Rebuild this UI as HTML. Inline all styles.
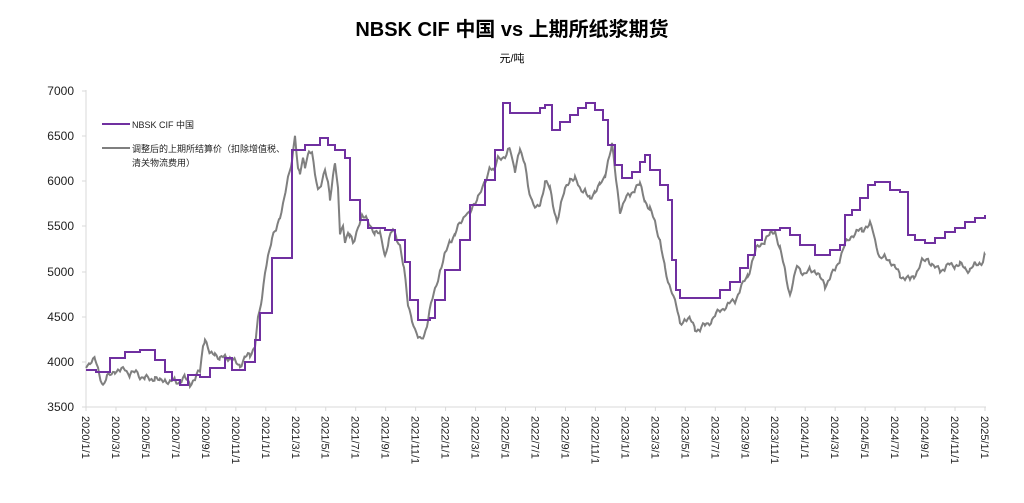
<!DOCTYPE html>
<html><head><meta charset="utf-8"><style>
body{margin:0;background:#fff;width:1024px;height:503px;overflow:hidden}
svg{display:block;font-family:"Liberation Sans","Noto Sans CJK SC",sans-serif}
</style></head><body>
<svg width="1024" height="503" viewBox="0 0 1024 503">
<text x="512" y="36" text-anchor="middle" font-size="20" font-weight="bold" fill="#000">NBSK CIF 中国 vs 上期所纸浆期货</text>
<text x="512" y="62" text-anchor="middle" font-size="11" fill="#000">元/吨</text>
<g font-size="12" fill="#222" text-anchor="end">
<text x="74" y="95">7000</text><text x="74" y="140">6500</text><text x="74" y="185">6000</text><text x="74" y="230">5500</text><text x="74" y="276">5000</text><text x="74" y="321">4500</text><text x="74" y="366">4000</text><text x="74" y="411">3500</text>
</g>
<g stroke="#d9d9d9" stroke-width="1" fill="none">
<line x1="86" y1="90" x2="86" y2="407"/><line x1="86" y1="407" x2="986" y2="407"/>
<path d="M82 91H86M82 136H86M82 181H86M82 226H86M82 272H86M82 317H86M82 362H86M82 407H86"/>
</g>
<g id="tk" stroke="#d9d9d9"></g>
<g id="lb" font-size="11" fill="#222"></g>
<polyline id="gray" fill="none" stroke="#7f7f7f" stroke-width="2" points="86,365 90,362 95,360 99,372 103,385 107,378 110,375 115,370 120,372 125,368 130,375 136,372 140,376 145,378 150,380 155,377 160,382 165,379 170,383 175,380 180,382 185,378 190,383 195,380 200,370 203,345 205,338 208,350 210,355 215,352 220,360 225,356 230,358 235,362 240,365 245,358 250,355 255,345 258,320 262,300 265,270 268,255 272,240 276,230 280,215 284,200 288,180 292,160 295,133 298,170 300,175 303,160 305,165 309,150 312,155 315,175 318,190 322,180 325,170 328,185 330,200 333,175 335,160 338,190 340,235 343,228 345,240 348,232 350,235 353,245 355,240 358,225 362,215 366,220 370,225 375,232 380,235 383,245 385,255 389,240 393,230 397,238 400,245 404,270 408,305 412,318 415,330 418,338 420,340 424,335 428,320 431,305 435,290 438,278 440,270 443,262 445,255 450,240 455,235 458,228 462,220 466,212 470,215 474,205 478,195 481,190 485,185 488,175 490,165 494,170 498,160 502,158 505,155 508,150 510,150 513,165 515,170 518,155 520,148 522,158 525,165 528,185 532,200 536,210 540,205 543,192 545,180 548,185 550,190 553,205 557,220 561,205 565,190 570,178 575,180 580,188 585,190 588,198 590,200 595,190 600,185 603,182 605,175 608,160 612,145 616,180 620,210 625,200 630,195 635,188 640,185 645,200 650,210 655,222 660,240 663,258 665,270 668,282 672,290 676,305 680,325 685,318 690,320 695,328 700,330 705,325 712,320 716,315 720,310 728,305 735,300 740,290 748,275 752,262 756,250 760,245 765,240 770,235 775,230 780,250 785,270 788,285 790,295 794,280 797,265 801,270 805,275 810,270 815,270 820,278 825,285 830,278 835,270 840,258 845,245 848,240 852,235 857,232 862,230 866,226 870,225 873,232 875,240 878,250 880,258 885,258 890,260 895,268 900,275 905,278 910,280 914,275 918,270 922,262 928,258 932,265 935,268 940,270 945,268 950,265 955,265 960,265 965,268 970,270 975,265 980,262 983,262 985,255"/>
<polyline fill="none" stroke="#7030a0" stroke-width="2" points="86,370 96,370 96,372 110,372 110,358 125,358 125,352 140,352 140,350 155,350 155,360 165,360 165,372 172,372 172,380 180,380 180,385 188,385 188,375 200,375 200,377 210,377 210,368 225,368 225,358 232,358 232,370 245,370 245,362 255,362 255,340 260,340 260,313 272,313 272,258 292,258 292,150 305,150 305,145 320,145 320,138 328,138 328,145 335,145 335,150 345,150 345,158 350,158 350,200 360,200 360,220 368,220 368,228 385,228 385,230 395,230 395,240 405,240 405,262 410,262 410,300 418,300 418,320 430,320 430,318 435,318 435,300 445,300 445,270 460,270 460,240 470,240 470,205 485,205 485,180 495,180 495,150 503,150 503,103 510,103 510,113 540,113 540,108 545,108 545,105 552,105 552,130 560,130 560,122 570,122 570,115 578,115 578,108 586,108 586,103 595,103 595,110 603,110 603,120 608,120 608,145 615,145 615,165 622,165 622,178 632,178 632,172 640,172 640,162 645,162 645,155 650,155 650,170 660,170 660,185 668,185 668,200 672,200 672,260 676,260 676,290 680,290 680,298 720,298 720,290 730,290 730,282 740,282 740,268 748,268 748,255 755,255 755,240 762,240 762,230 780,230 780,228 790,228 790,235 800,235 800,245 815,245 815,255 830,255 830,250 840,250 840,245 845,245 845,215 852,215 852,210 860,210 860,198 868,198 868,185 875,185 875,182 890,182 890,190 900,190 900,192 908,192 908,235 915,235 915,240 925,240 925,243 935,243 935,238 945,238 945,232 955,232 955,228 965,228 965,222 975,222 975,218 985,218 985,215"/>
<line x1="102" y1="124" x2="130" y2="124" stroke="#7030a0" stroke-width="2"/>
<text x="132" y="128" font-size="9" fill="#222">NBSK CIF 中国</text>
<line x1="102" y1="148" x2="130" y2="148" stroke="#7f7f7f" stroke-width="2"/>
<text x="132" y="152" font-size="9" fill="#222">调整后的上期所结算价（扣除增值税、</text>
<text x="132" y="166" font-size="9" fill="#222">清关物流费用）</text>
</svg>
<script>
var tk=document.getElementById('tk'),lb=document.getElementById('lb'),ns='http://www.w3.org/2000/svg';
for(var i=0;i<=30;i++){var x=86+i*(899/30);var y=2020+Math.floor(i/6),m=(i%6)*2+1;
var l=document.createElementNS(ns,'line');l.setAttribute('x1',x);l.setAttribute('x2',x);l.setAttribute('y1',407);l.setAttribute('y2',411);tk.appendChild(l);
var t=document.createElementNS(ns,'text');t.setAttribute('transform','translate('+(x-4)+',416) rotate(90)');t.textContent=y+'/'+m+'/1';lb.appendChild(t);}
var g=document.getElementById('gray');var p=g.getAttribute('points').trim().split(/\s+/).map(function(s){return s.split(',').map(Number)});
var out=[],k=0;for(var j=0;j<p.length-1;j++){var a=p[j],b=p[j+1];for(var xx=a[0];xx<b[0];xx+=1.5){var f=(xx-a[0])/(b[0]-a[0]);var yy=a[1]+f*(b[1]-a[1]);k++;yy+=Math.sin(k*1.7)*1.6+Math.sin(k*0.63)*2.2;out.push(xx.toFixed(1)+','+yy.toFixed(1));}}
out.push(p[p.length-1].join(','));g.setAttribute('points',out.join(' '));
</script>
</body></html>
